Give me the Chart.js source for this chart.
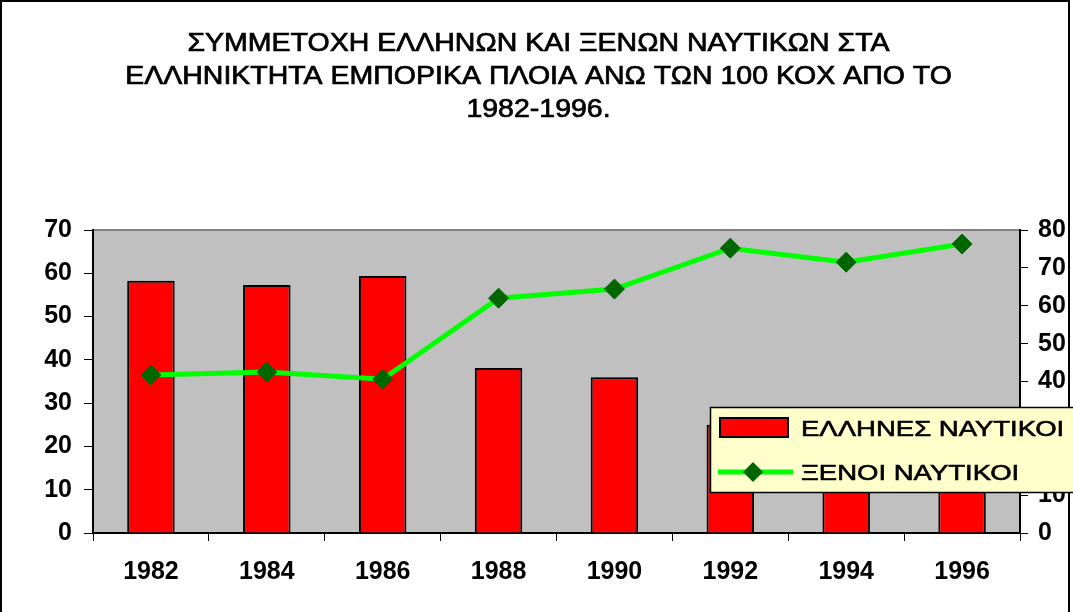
<!DOCTYPE html>
<html>
<head>
<meta charset="utf-8">
<script src="https://cdn.jsdelivr.net/npm/chart.js@4.4.0/dist/chart.umd.min.js"></script>
<style>
html,body{margin:0;padding:0;background:#fff;}
#wrap{width:1073px;height:612px;}
</style>
</head>
<body>
<div id="wrap"><canvas id="c" width="1073" height="612"></canvas></div>
<script>
const titleLines = ['ΣΥΜΜΕΤΟΧΗ ΕΛΛΗΝΩΝ ΚΑΙ ΞΕΝΩΝ ΝΑΥΤΙΚΩΝ ΣΤΑ', 'ΕΛΛΗΝΙΚΤΗΤΑ ΕΜΠΟΡΙΚΑ ΠΛΟΙΑ ΑΝΩ ΤΩΝ 100 ΚΟΧ ΑΠΟ ΤΟ', '1982-1996.'];
const categories = ['1982', '1984', '1986', '1988', '1990', '1992', '1994', '1996'];
const greekSeamen = [58.3, 57.3, 59.4, 38.1, 36.0, 25.0, 22.0, 20.0];
const foreignSeamen = [41.7, 42.5, 40.6, 62.0, 64.4, 75.2, 71.5, 76.3];
const greekLabel = 'ΕΛΛΗΝΕΣ ΝΑΥΤΙΚΟΙ';
const foreignLabel = 'ΞΕΝΟΙ ΝΑΥΤΙΚΟΙ';

const FONT = "'Liberation Sans', Arial, sans-serif";

function stretchedText(ctx, text, x, y, sx, align, thicken) {
  ctx.save();
  ctx.translate(x, y);
  ctx.scale(sx, 1);
  ctx.textAlign = align;
  ctx.fillText(text, 0, 0);
  if (thicken) {
    ctx.lineWidth = thicken;
    ctx.strokeStyle = ctx.fillStyle;
    ctx.strokeText(text, 0, 0);
  }
  ctx.restore();
}

const bgPlugin = {
  id: 'bg',
  beforeDraw(chart) {
    const {ctx, chartArea: a, width, height} = chart;
    ctx.save();
    ctx.fillStyle = '#ffffff';
    ctx.fillRect(0, 0, width, height);
    ctx.fillStyle = '#c0c0c0';
    ctx.fillRect(a.left, a.top, a.right - a.left, a.bottom - a.top);
    ctx.strokeStyle = '#808080';
    ctx.lineWidth = 2;
    ctx.beginPath();
    ctx.moveTo(a.left, a.top);
    ctx.lineTo(a.right, a.top);
    ctx.stroke();
    ctx.strokeStyle = '#000';
    ctx.lineWidth = 2;
    ctx.beginPath();
    ctx.moveTo(1, height);
    ctx.lineTo(1, 1);
    ctx.lineTo(width - 4, 1);
    ctx.lineTo(width - 4, height);
    ctx.stroke();
    // title
    ctx.fillStyle = '#000';
    ctx.font = '25px ' + FONT;
    ctx.textBaseline = 'middle';
    const ys = [44, 77, 110];
    titleLines.forEach((t, i) => stretchedText(ctx, t, width / 2 + 2, ys[i], 1.14, 'center', 0.7));
    ctx.restore();
  }
};

const legendPlugin = {
  id: 'boxLegend',
  afterDraw(chart) {
    const ctx = chart.ctx;
    const dsBar = chart.data.datasets[1];
    const dsLine = chart.data.datasets[0];
    ctx.save();
    ctx.fillStyle = '#ffffcc';
    ctx.fillRect(710, 407, 370, 85);
    ctx.strokeStyle = '#000';
    ctx.lineWidth = 1.5;
    ctx.strokeRect(710.5, 407.5, 370, 85);
    // bar swatch
    ctx.fillStyle = dsBar.backgroundColor;
    ctx.fillRect(720, 418, 68, 19);
    ctx.lineWidth = 2;
    ctx.strokeRect(720, 418, 68, 19);
    // line swatch
    ctx.strokeStyle = dsLine.borderColor;
    ctx.lineWidth = 5;
    ctx.beginPath();
    ctx.moveTo(718, 472);
    ctx.lineTo(793, 472);
    ctx.stroke();
    ctx.fillStyle = dsLine.pointBackgroundColor;
    ctx.beginPath();
    const cx = 753, cy = 472, r = 10;
    ctx.moveTo(cx, cy - r); ctx.lineTo(cx + r, cy); ctx.lineTo(cx, cy + r); ctx.lineTo(cx - r, cy); ctx.closePath();
    ctx.fill();
    ctx.fillStyle = '#000';
    ctx.font = '22px ' + FONT;
    ctx.textBaseline = 'middle';
    stretchedText(ctx, dsBar.label, 801, 430, 1.25, 'left', 0.6);
    stretchedText(ctx, dsLine.label, 801, 474, 1.25, 'left', 0.6);
    ctx.restore();
  }
};

const tickFont = {family: FONT, size: 25, weight: 'bold'};

new Chart(document.getElementById('c'), {
  type: 'bar',
  data: {
    labels: categories,
    datasets: [
      {
        type: 'line',
        label: foreignLabel,
        data: foreignSeamen,
        yAxisID: 'y1',
        borderColor: '#00ff00',
        borderWidth: 5,
        pointStyle: 'rectRot',
        pointRadius: 10,
        pointBackgroundColor: '#006600',
        pointBorderColor: '#006600',
        pointBorderWidth: 1,
        tension: 0,
        order: 0
      },
      {
        type: 'bar',
        label: greekLabel,
        data: greekSeamen,
        yAxisID: 'y',
        backgroundColor: '#ff0000',
        borderColor: '#000000',
        borderWidth: 2,
        borderSkipped: 'bottom',
        barPercentage: 0.41,
        categoryPercentage: 1.0,
        order: 1
      }
    ]
  },
  options: {
    responsive: false,
    animation: false,
    devicePixelRatio: 1,
    layout: {padding: {left: 0, right: 0, top: 230, bottom: 0}},
    plugins: {
      legend: {display: false},
      tooltip: {enabled: false},
      title: {display: false}
    },
    scales: {
      x: {
        offset: true,
        grid: {display: true, drawOnChartArea: false, offset: true, tickLength: 8, color: '#000', lineWidth: 1},
        border: {display: true, color: '#000', width: 2},
        ticks: {color: '#000', font: tickFont, padding: 16, maxRotation: 0},
        afterFit(s) { s.height = 79; }
      },
      y: {
        position: 'left',
        min: 0, max: 70,
        grid: {display: true, drawOnChartArea: false, tickLength: 9, color: '#000', lineWidth: 1},
        border: {display: true, color: '#000', width: 2},
        ticks: {stepSize: 10, color: '#000', font: tickFont, padding: 12},
        afterFit(s) { s.width = 93; }
      },
      y1: {
        position: 'right',
        min: 0, max: 80,
        grid: {display: true, drawOnChartArea: false, tickLength: 8, color: '#000', lineWidth: 1},
        border: {display: true, color: '#000', width: 2},
        ticks: {stepSize: 10, color: '#000', font: tickFont, padding: 10},
        afterFit(s) { s.width = 53; }
      }
    }
  },
  plugins: [bgPlugin, legendPlugin]
});
</script>
</body>
</html>
